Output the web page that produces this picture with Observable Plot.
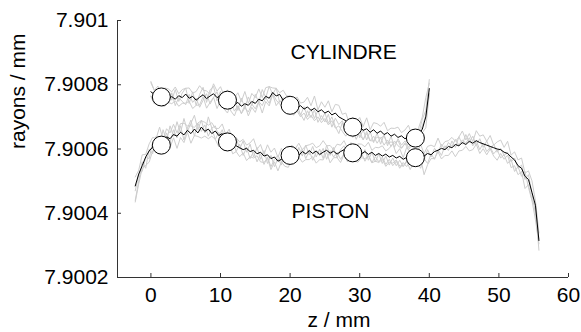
<!DOCTYPE html>
<html><head><meta charset="utf-8">
<script src="https://cdn.jsdelivr.net/npm/d3@7"></script>
<script src="https://cdn.jsdelivr.net/npm/@observablehq/plot@0.6"></script>
<style>html,body{margin:0;padding:0;background:#fff;overflow:hidden}</style>
</head><body><div id="chart"></div>
<script>
// Axis ticks
const xTicks = [0, 10, 20, 30, 40, 50, 60];
const yTicks = [7.9002, 7.9004, 7.9006, 7.9008, 7.901];

// Profiles: radius minus 7.9 mm, in nm; sampled every 0.5 mm in z
const cylindreStart = 0, cylindreStep = 0.5;
const cylindreMean = [778,770,762,760,768,757,763,755,766,760,771,758,764,752,761,769,757,765,772,760,766,755,750,744,738,745,733,741,736,748,742,755,750,764,758,776,765,770,752,745,737,740,728,735,724,731,720,727,716,722,712,718,706,712,700,694,688,676,668,664,670,658,663,652,660,649,656,645,651,640,646,636,641,632,638,630,636,645,662,700,788];
const cylindreGrayA = [810,782,750,776,745,780,752,785,748,774,790,742,778,736,770,792,745,784,795,750,780,740,765,725,752,720,758,728,762,735,770,745,785,760,795,770,790,745,760,720,748,715,740,705,732,700,725,695,720,690,712,680,700,670,648,682,650,675,640,668,635,660,628,655,620,650,615,645,610,640,605,632,612,625,605,620,640,668,700,760,805];
const cylindreGrayB = [765,745,772,738,768,742,775,735,760,748,738,770,745,758,730,752,772,740,760,778,745,725,712,742,718,735,710,728,715,740,725,748,735,760,742,775,752,740,728,715,725,705,718,700,712,692,705,688,700,682,695,675,688,665,672,655,640,658,636,650,642,630,648,625,640,618,635,612,628,608,625,610,602,618,598,612,625,645,672,705,770];
const cylindreGrayC = [806,782,796,768,790,787,778,793,772,785,789,790,774,779,797,783,781,770,803,780,794,767,784,752,760,775,748,779,742,773,760,787,760,791,794,790,789,775,783,765,765,752,762,743,746,761,735,765,722,747,730,750,716,739,736,708,712,681,699,684,698,670,697,660,682,679,671,683,657,665,664,668,651,659,674,644,660,650,693,720,816];
const cylindreGrayD = [763,740,754,734,733,745,741,750,733,742,743,748,726,736,737,763,727,745,761,726,751,725,742,718,703,733,711,736,703,730,714,745,712,748,734,770,735,750,741,711,722,710,720,709,689,719,698,722,683,704,684,708,668,696,676,688,658,656,657,630,655,628,655,626,625,637,634,640,618,622,618,626,603,616,614,624,606,625,651,666,773];

const pistonStart = -2.25, pistonStep = 0.5;
const pistonMean = [485,522,548,575,594,606,618,630,624,638,632,645,640,652,644,658,648,662,650,668,655,662,648,656,642,648,630,624,618,610,604,598,602,592,596,585,590,578,582,570,575,562,568,572,578,582,586,580,592,585,595,586,594,583,590,596,587,593,584,592,598,590,586,589,594,585,592,583,590,580,586,578,584,575,580,572,577,568,574,570,573,576,580,578,586,582,592,596,602,598,608,604,614,610,620,614,624,618,626,620,616,612,608,604,600,598,590,586,575,566,548,540,515,505,465,425,315];
const pistonGrayA = [440,500,560,540,600,585,640,610,660,625,672,640,685,650,695,655,680,705,660,690,650,700,665,672,640,660,625,650,612,635,600,625,590,615,575,605,568,595,555,580,545,570,550,590,562,598,570,605,578,612,582,608,575,600,570,612,580,605,572,598,610,578,600,570,605,575,598,565,590,560,585,555,578,550,572,548,565,545,560,555,548,560,540,570,555,585,568,598,580,610,595,625,605,638,615,645,620,640,612,632,605,625,598,615,590,602,580,590,560,572,540,550,505,520,460,400,320];
const pistonGrayB = [470,520,530,575,570,620,600,625,615,650,620,660,635,672,628,665,690,640,680,655,675,640,665,630,652,618,640,605,628,592,615,580,605,570,592,560,585,552,575,545,568,580,560,575,590,568,592,575,600,570,595,565,590,580,602,568,595,575,590,568,585,598,572,592,568,588,562,582,558,576,560,575,552,568,548,562,540,558,545,565,575,550,590,565,598,575,602,590,615,598,620,608,630,612,628,618,635,610,625,598,618,592,605,585,598,572,582,555,568,530,545,515,530,480,440,380,305];
const pistonGrayC = [513,534,582,583,616,636,633,668,630,663,650,677,650,679,680,672,672,667,681,688,683,674,682,664,664,678,645,662,624,635,622,630,612,619,632,599,614,583,613,590,603,574,602,580,600,612,601,618,598,610,613,618,604,610,626,610,611,598,615,612,626,602,620,597,616,615,607,621,596,605,604,610,594,602,616,586,601,573,605,590,601,588,614,586,608,612,607,634,608,623,626,636,624,637,656,628,648,623,657,640,644,624,642,612,622,628,605,624,581,591,566,572,525,532,501,439,339];
const pistonGrayD = [435,492,540,549,559,594,596,625,591,620,604,635,602,636,620,652,618,642,639,634,640,632,640,630,607,636,608,619,585,592,576,588,564,576,572,579,560,558,571,536,560,532,560,546,543,570,564,575,559,567,567,576,556,567,566,590,557,573,573,558,583,560,578,563,559,573,570,578,557,562,558,568,546,559,556,566,547,548,563,536,558,546,572,520,551,570,570,591,569,580,580,594,576,594,596,608,594,598,615,586,601,582,600,578,565,586,568,581,542,548,520,530,477,489,441,419,285];

// Circle markers (z in mm, radius minus 7.9 mm in nm)
const markerZ = [1.5, 11, 20, 29, 38];
const cylindreMarkers = [762, 752, 736, 668, 634];
const pistonMarkers = [612, 622, 580, 588, 573];

// Annotations
const annotationText = ["CYLINDRE", "PISTON"];
const annotationZ = [27.7, 25.8];
const annotationR = [7.9009016, 7.9004067];

const toRows = (vals, start, step, trace) =>
  vals.map((v, i) => ({z: start + i * step, r: 7.9 + v * 1e-6, trace}));

const grayRows = [
  ...toRows(cylindreGrayA, cylindreStart, cylindreStep, "cA"),
  ...toRows(cylindreGrayB, cylindreStart, cylindreStep, "cB"),
  ...toRows(cylindreGrayC, cylindreStart, cylindreStep, "cC"),
  ...toRows(cylindreGrayD, cylindreStart, cylindreStep, "cD"),
  ...toRows(pistonGrayA, pistonStart, pistonStep, "pA"),
  ...toRows(pistonGrayB, pistonStart, pistonStep, "pB"),
  ...toRows(pistonGrayC, pistonStart, pistonStep, "pC"),
  ...toRows(pistonGrayD, pistonStart, pistonStep, "pD")
];
const meanRows = [
  ...toRows(cylindreMean, cylindreStart, cylindreStep, "c"),
  ...toRows(pistonMean, pistonStart, pistonStep, "p")
];
const markers = [
  ...markerZ.map((z, i) => ({z, r: 7.9 + cylindreMarkers[i] * 1e-6})),
  ...markerZ.map((z, i) => ({z, r: 7.9 + pistonMarkers[i] * 1e-6}))
];
const annotations = annotationText.map((t, i) => ({t, z: annotationZ[i], r: annotationR[i]}));

const xDomain = [-4.8, 60];
const yDomain = [7.9002, 7.901];

const chart = Plot.plot({
  width: 581, height: 332,
  marginLeft: 117, marginRight: 13, marginTop: 20, marginBottom: 55,
  style: {fontFamily: "'Liberation Sans', Arial, sans-serif", fontSize: "21px", color: "black", background: "white"},
  x: {domain: xDomain, label: null},
  y: {domain: yDomain, label: null},
  marks: [
    Plot.line(grayRows, {x: "z", y: "r", z: "trace", stroke: "#cdcdcd", strokeWidth: 1}),
    Plot.line(meanRows, {x: "z", y: "r", z: "trace", stroke: "black", strokeWidth: 1}),
    Plot.dot(markers, {x: "z", y: "r", r: 9, fill: "white", stroke: "black", strokeWidth: 1}),
    Plot.ruleX([xDomain[0]], {stroke: "#333"}),
    Plot.ruleY([yDomain[0]], {stroke: "#333"}),
    Plot.axisX({ticks: xTicks, tickSize: -4, tickPadding: 14, tickFormat: d => String(d), label: null, stroke: "#333"}),
    Plot.axisY({ticks: yTicks, tickSize: -4, tickPadding: 13, tickFormat: d => String(d), label: null, stroke: "#333"}),
    Plot.text(annotations, {x: "z", y: "r", text: "t", lineAnchor: "middle", fill: "black"}),
    Plot.text(["z / mm"], {frameAnchor: "bottom", dx: -4, dy: 43, lineAnchor: "middle", fill: "black"}),
    Plot.text(["rayons / mm"], {frameAnchor: "left", dx: -99, rotate: -90, lineAnchor: "middle", fill: "black"})
  ]
});
document.getElementById("chart").append(chart);
</script>
</body></html>
